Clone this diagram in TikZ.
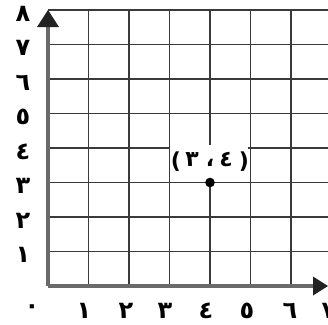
\documentclass[tikz,border=0pt]{standalone}
\usepackage{fontspec}
\setmainfont{DejaVu Sans}
\newfontfamily\arabicfont[Script=Arabic]{DejaVu Sans}
\TeXXeTstate=1
\definecolor{gridc}{HTML}{3A3A3A}
\definecolor{axisc}{HTML}{6A6A6A}
\definecolor{tipc}{HTML}{222222}
\tikzset{
  gridline/.style={draw=gridc, line width=1.1pt},
  axisline/.style={draw=axisc, line width=3.6pt},
  tiptri/.style={fill=tipc},
  numlbl/.style={inner sep=0pt, anchor=base, font=\arabicfont\bfseries\fontsize{24}{24}\selectfont},
  ptlbl/.style={inner sep=0pt, anchor=base, font=\arabicfont\bfseries\fontsize{22}{22}\selectfont},
  parlbl/.style={inner sep=0pt, anchor=base, font=\bfseries\fontsize{22}{22}\selectfont},
}
\begin{document}
\begin{tikzpicture}[x=1pt,y=-1pt]
\useasboundingbox (0,0) rectangle (328,324);
\fill[white] (0,0) rectangle (328,324);
% grid
\foreach \i in {1,...,6}{
  \draw[gridline] ({48+40.5*\i},10) -- ({48+40.5*\i},286);
}
\foreach \j in {1,...,8}{
  \draw[gridline] (48,{286-34.5*\j}) -- (330,{286-34.5*\j});
}
% axes
\coordinate (O) at (48,286);
\coordinate (Yend) at (48,25);
\coordinate (Xend) at (315,286);
\draw[axisline] (O) -- (Yend);
\draw[axisline] (O) -- (Xend);
\fill[tiptri] (48,10) -- (37,27) -- (59,27) -- cycle;
\fill[tiptri] (328,286) -- (313,276.5) -- (313,295.5) -- cycle;
% y labels
\foreach \d/\j in {١/1,٢/2,٣/3,٤/4,٥/5,٦/6,٧/7,٨/8}{
  \node[numlbl] (y\j) at (23,{286-34.5*\j+11}) {\beginR\d\endR};
}
% x labels
\node[numlbl] (x0) at (32,313) {\beginR٠\endR};
\foreach \d/\i/\x in {١/1/84,٢/2/126,٣/3/165,٤/4/206,٥/5/247,٦/6/290,٧/7/329}{
  \node[numlbl] (x\i) at (\x,318) {\beginR\d\endR};
}
% point label
\node[fill=white, minimum width=78pt, minimum height=33pt, inner sep=0pt] (lblbox) at (209,161.5) {};
\node[parlbl] (lp) at (176,168) {(};
\node[ptlbl] (l3) at (192,166) {\beginR٣\endR};
\node[ptlbl] (lc) at (210,166) {\beginR،\endR};
\node[ptlbl] (l4) at (226,166) {\beginR٤\endR};
\node[parlbl] (rp) at (244,168) {)};
% point
\fill[black] (210,182.5) circle (4.8pt) coordinate (P);
\end{tikzpicture}
\end{document}
